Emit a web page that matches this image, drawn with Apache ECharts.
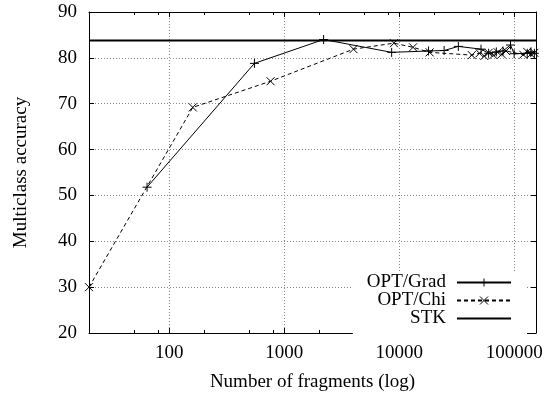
<!DOCTYPE html>
<html>
<head>
<meta charset="utf-8">
<script src="https://cdn.jsdelivr.net/npm/echarts@6/dist/echarts.min.js"></script>
<style>html,body{margin:0;padding:0;background:#fff}#c{width:550px;height:394px}</style>
</head>
<body>
<div id="c"></div>
<script>
// ---- data ----
var gradX = [64, 550, 2200, 8600, 18000, 24600, 32700, 51500, 60000, 70000, 80000, 93000, 100000, 130000, 140000, 150000];
var gradY = [51.8, 78.8, 84.0, 81.2, 81.5, 81.6, 82.5, 81.9, 81.0, 81.3, 81.5, 82.8, 80.9, 81.0, 81.3, 81.0];
var chiX = [20, 160, 760, 4000, 9000, 13200, 18400, 42800, 50000, 55000, 60000, 66000, 72000, 78000, 85000, 120000, 130000, 140000, 150000];
var chiY = [30.0, 69.2, 74.9, 81.9, 83.2, 82.3, 81.2, 80.6, 81.0, 80.4, 81.1, 80.6, 81.2, 80.8, 81.5, 80.7, 81.3, 80.8, 81.1];
var stkX = [20, 155000];
var stkY = [83.8, 83.8];
var xMajor = [100, 1000, 10000, 100000];
var xMinor = [50, 80, 200, 500, 800, 2000, 5000, 8000, 20000, 50000, 80000];
var seriesNames = ['OPT/Grad', 'OPT/Chi', 'STK'];
var xTitle = 'Number of fragments (log)';
var yTitle = 'Multiclass accuracy';

function pairs(xs, ys) { return xs.map(function (x, i) { return [x, ys[i]]; }); }

var FONT = 'Liberation Serif';
var FS = 19;
var plusPath = 'path://M0 5 L10 5 M5 0 L5 10';
var crossPath = 'path://M0 0 L10 10 M10 0 L0 10';
var thickLine = 'path://M0 0 L54 0 L54 2 L0 2 Z';

var chart = echarts.init(document.getElementById('c'), null, {renderer: 'canvas'});
var baseX = {
  type: 'log', logBase: 10, min: 20, max: 155000, gridIndex: 0
};
function xAx(extra) { return Object.assign({}, baseX, extra); }

chart.setOption({
  animation: false,
  backgroundColor: '#fff',
  grid: {left: 89, right: 14, top: 12, bottom: 61, containLabel: false, outerBoundsMode: 'none'},
  xAxis: [
    xAx({
      position: 'bottom',
      name: xTitle, nameLocation: 'middle', nameGap: 40,
      nameTextStyle: {fontFamily: FONT, fontSize: FS, color: '#000'},
      axisLine: {show: true, lineStyle: {color: '#000', width: 1}},
      axisTick: {show: true, inside: true, length: 5, lineStyle: {color: '#000'}},
      axisLabel: {
        show: true, margin: 11, fontFamily: FONT, fontSize: FS, color: '#000',
        formatter: function (v) { var r = Math.round(v); return xMajor.indexOf(r) >= 0 ? String(r) : ''; }
      },
      splitLine: {show: true, lineStyle: {color: '#888', type: [1, 2], width: 1}}
    }),
    xAx({
      position: 'top',
      axisLine: {show: true, lineStyle: {color: '#000', width: 1}},
      axisTick: {show: true, inside: true, length: 5, lineStyle: {color: '#000'}},
      axisLabel: {show: false},
      splitLine: {show: false}
    }),
    xAx({
      position: 'bottom',
      axisLine: {show: false},
      axisTick: {show: true, inside: true, length: 3, customValues: xMinor, lineStyle: {color: '#000'}},
      axisLabel: {show: false},
      splitLine: {show: false}
    }),
    xAx({
      position: 'top',
      axisLine: {show: false},
      axisTick: {show: true, inside: true, length: 3, customValues: xMinor, lineStyle: {color: '#000'}},
      axisLabel: {show: false},
      splitLine: {show: false}
    })
  ],
  yAxis: [
    {
      type: 'value', min: 20, max: 90, interval: 10, position: 'left',
      name: yTitle, nameLocation: 'middle', nameGap: 58, nameRotate: 90,
      nameTextStyle: {fontFamily: FONT, fontSize: FS, color: '#000'},
      axisLine: {show: true, lineStyle: {color: '#000', width: 1}},
      axisTick: {show: true, inside: true, length: 5, lineStyle: {color: '#000'}},
      axisLabel: {margin: 12, fontFamily: FONT, fontSize: FS, color: '#000'},
      splitLine: {show: true, lineStyle: {color: '#888', type: [1, 2], width: 1}}
    },
    {
      type: 'value', min: 20, max: 90, interval: 10, position: 'right',
      axisLine: {show: true, lineStyle: {color: '#000', width: 1}},
      axisTick: {show: true, inside: true, length: 5, lineStyle: {color: '#000'}},
      axisLabel: {show: false},
      splitLine: {show: false}
    }
  ],
  legend: {
    orient: 'vertical', align: 'right',
    right: 23, top: 271,
    padding: [2, 15, 8, 14],
    backgroundColor: '#fff',
    itemWidth: 54, itemHeight: 10, itemGap: -1,
    textStyle: {fontFamily: FONT, fontSize: FS, color: '#000', padding: [0, 6, 0, 0]},
    itemStyle: {borderWidth: 1},
    data: [
      {name: seriesNames[0]},
      {name: seriesNames[1]},
      {name: seriesNames[2], icon: thickLine, itemStyle: {color: '#000', borderWidth: 0}}
    ]
  },
  series: [
    {
      name: seriesNames[0], type: 'line', data: pairs(gradX, gradY),
      symbol: plusPath, symbolSize: 9,
      itemStyle: {color: 'rgba(0,0,0,0)', borderColor: '#000', borderWidth: 1},
      lineStyle: {color: '#000', width: 1},
      z: 3
    },
    {
      name: seriesNames[1], type: 'line', data: pairs(chiX, chiY),
      symbol: crossPath, symbolSize: 8,
      itemStyle: {color: 'rgba(0,0,0,0)', borderColor: '#000', borderWidth: 1},
      lineStyle: {color: '#000', width: 1, type: [4, 3]},
      z: 3
    },
    {
      name: seriesNames[2], type: 'line', data: pairs(stkX, stkY),
      symbol: 'none',
      itemStyle: {color: '#000'},
      lineStyle: {color: '#000', width: 2},
      z: 2
    }
  ]
});
</script>
</body>
</html>
